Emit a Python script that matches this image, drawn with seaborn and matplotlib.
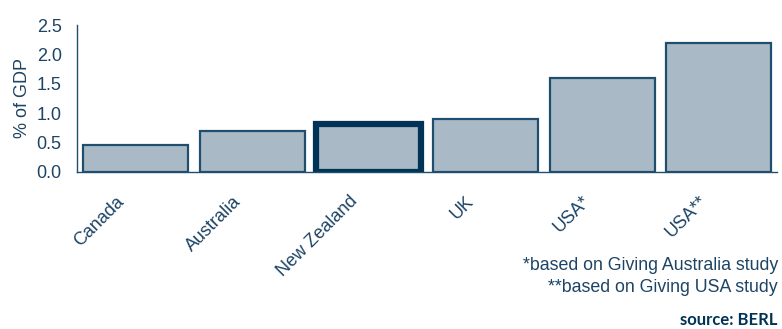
import matplotlib
matplotlib.use("Agg")
import matplotlib.pyplot as plt
import matplotlib.transforms as mtransforms
import seaborn as sns
import pandas as pd
import numpy as np

countries = ["Canada", "Australia", "New Zealand", "UK", "USA*", "USA**"]
values = [0.46, 0.69, 0.82, 0.90, 1.60, 2.20]
y_ticks = [0.0, 0.5, 1.0, 1.5, 2.0, 2.5]
y_label = "% of GDP"
footnotes = ["*based on Giving Australia study", "**based on Giving USA study"]
source = "source: BERL"

sns.set_style("white")
plt.rcParams['font.family'] = ['Liberation Sans', 'DejaVu Sans']

TXT = "#1d4464"
FILL = "#a9b9c5"
EDGE = "#1f4e6e"
HIGH = "#003355"

df = pd.DataFrame({"country": countries, "value": values})

fig = plt.figure(figsize=(7.82, 3.29), dpi=100)
ax = fig.add_axes([77/782, 1 - 172/329, 700/782, 147/329])

sns.barplot(data=df, x="country", y="value", ax=ax, color=FILL, width=0.9,
            saturation=1, edgecolor=EDGE, linewidth=1.6)
for patch, c in zip(ax.patches, countries):
    if c == "New Zealand":
        patch.set_edgecolor(HIGH)
        patch.set_linewidth(4.5)

ax.set_xlim(-0.5, len(countries) - 0.5)
ax.set_ylim(0, 2.5)
ax.set_yticks(y_ticks)
ax.set_yticklabels([f"{t:.1f}" for t in y_ticks], fontsize=13, color=TXT)
ax.set_ylabel(y_label, fontsize=13, color=TXT, labelpad=4)
ax.set_xlabel("")

ax.set_xticks(np.arange(len(countries)))
ax.set_xticklabels(countries, rotation=45, ha="right", rotation_mode="anchor",
                   fontsize=13, color=TXT)
ax.tick_params(axis="x", which="major", length=0, pad=15)
shift = mtransforms.ScaledTranslation(-20/100, 0, fig.dpi_scale_trans)
for lbl in ax.get_xticklabels():
    lbl.set_transform(lbl.get_transform() + shift)
ax.set_xticks(np.arange(len(countries) + 1) - 0.5, minor=True)
ax.tick_params(axis="x", which="minor", length=5, width=1, color=EDGE, direction="out")
ax.tick_params(axis="y", length=5, width=1, color=EDGE, direction="out", pad=6)

for s in ["top", "right"]:
    ax.spines[s].set_visible(False)
for s in ["left", "bottom"]:
    ax.spines[s].set_color(EDGE)
    ax.spines[s].set_linewidth(1)

fig.text(778/782, 1 - 266/329, footnotes[0], ha="right", va="center", fontsize=12.8, color=TXT)
fig.text(778/782, 1 - 287/329, footnotes[1], ha="right", va="center", fontsize=12.8, color=TXT)
fig.text(778/782, 1 - 320/329, source, ha="right", va="center", fontsize=12,
         fontweight="bold", color=HIGH, family=["Lato", "DejaVu Sans"])

fig.savefig("out.png", dpi=100)
